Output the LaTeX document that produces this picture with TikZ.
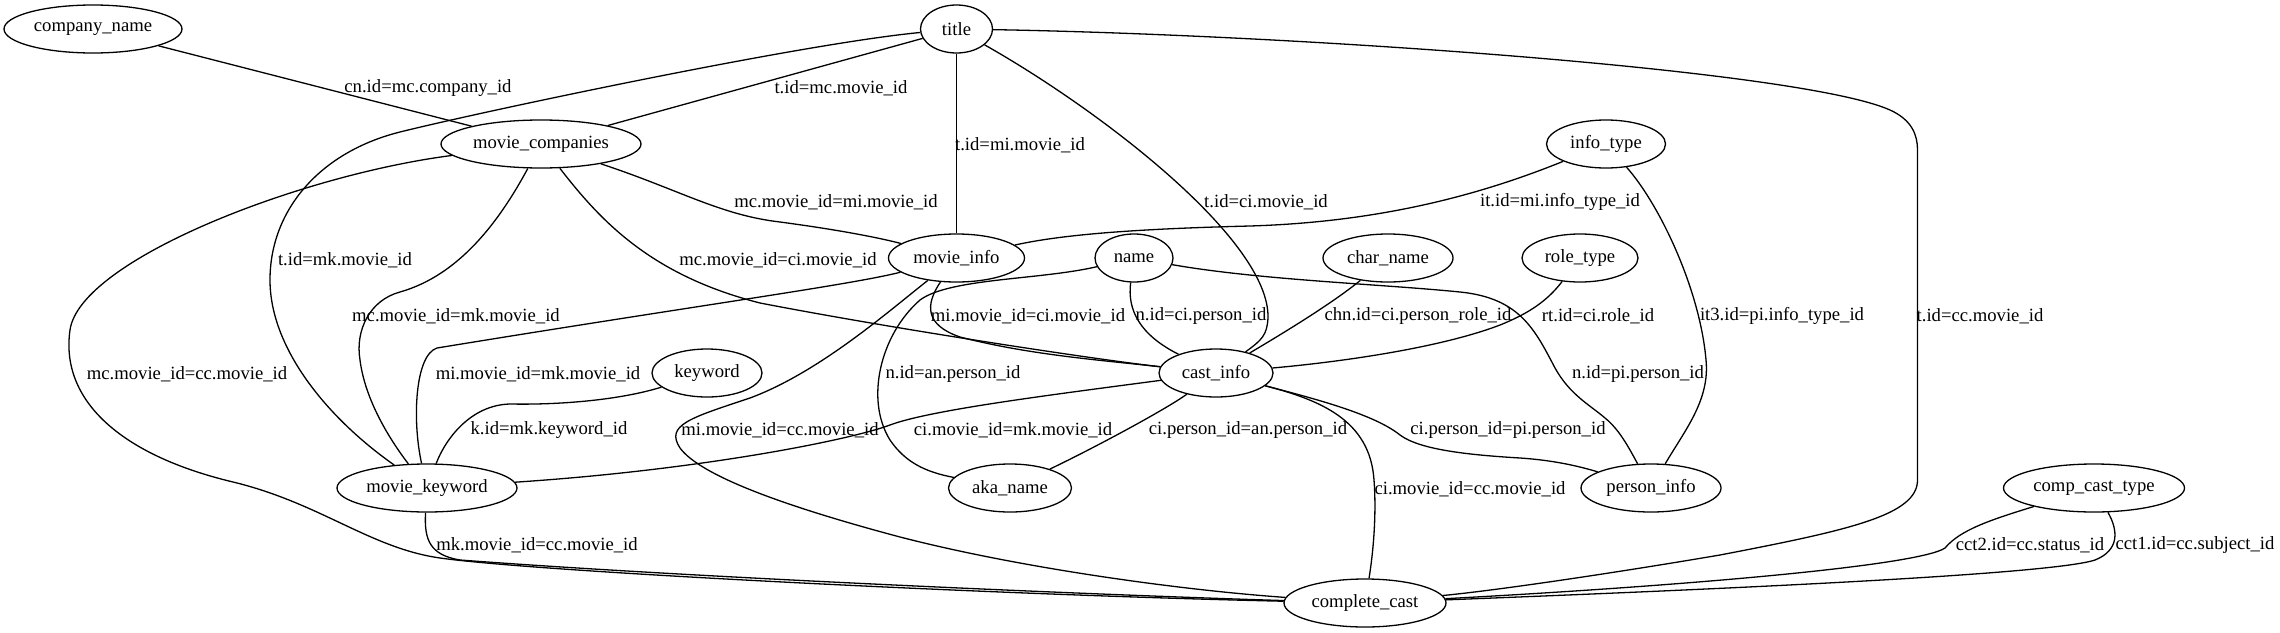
\documentclass[tikz,border=0pt]{standalone}
\usepackage{fontspec}
\setmainfont{Liberation Serif}
\usetikzlibrary{shapes.geometric}
\begin{document}
\begin{tikzpicture}[x=1pt,y=-1pt,
  tbl/.style={draw, ellipse, line width=1.3pt, minimum height=48pt, inner sep=0pt, font=\fontsize{18.67}{22}\selectfont},
  lbl/.style={inner sep=0pt, font=\fontsize{18.67}{22}\selectfont},
  edge/.style={draw, line width=1.3pt}]
\useasboundingbox (0,0) rectangle (2280,632);
% tables
\node[tbl, minimum width=178pt] (cn)  at (93,29)    {company\_name};
\node[tbl, minimum width=72pt]  (t)   at (956.5,29) {title};
\node[tbl, minimum width=200pt] (mc)  at (541,144)  {movie\_companies};
\node[tbl, minimum width=119pt] (it)  at (1606,144) {info\_type};
\node[tbl, minimum width=136pt] (mi)  at (956.5,258) {movie\_info};
\node[tbl, minimum width=78pt]  (n)   at (1134,258) {name};
\node[tbl, minimum width=130pt] (chn) at (1388,258) {char\_name};
\node[tbl, minimum width=116pt] (rt)  at (1580,258) {role\_type};
\node[tbl, minimum width=114pt] (ci)  at (1216,373) {cast\_info};
\node[tbl, minimum width=110pt] (k)   at (707,373)  {keyword};
\node[tbl, minimum width=180pt] (mk)  at (427,488)  {movie\_keyword};
\node[tbl, minimum width=123pt] (an)  at (1010,488) {aka\_name};
\node[tbl, minimum width=140pt] (pi)  at (1651,488) {person\_info};
\node[tbl, minimum width=181pt] (cct) at (2094,488) {comp\_cast\_type};
\node[tbl, minimum width=162pt] (cc)  at (1365,603) {complete\_cast};
% edges
\draw[edge] (cn) -- (mc);
\draw[edge] (t) -- (mc);
\draw[edge] (t) .. controls (800,44) and (480,112) .. (400,132) .. controls (320,152) and (270,210) .. (270,280) .. controls (270,350) and (330,420) .. (mk);
\draw[edge] (mc) .. controls (300,175) and (80,260) .. (70,330) .. controls (60,400) and (120,455) .. (233,482) .. controls (320,503) and (370,548) .. (440,558) .. controls (540,572) and (1000,595) .. (cc);
\draw[edge] (t) -- (mi);
\draw[edge] (t) .. controls (1100,110) and (1270,240) .. (1268,318) .. controls (1267,335) and (1262,340) .. (ci);
\draw[edge] (t) .. controls (1300,35) and (1800,70) .. (1890,110) .. controls (1912,120) and (1917.5,135) .. (1917.5,150) -- (1917.5,480) .. controls (1917.5,515) and (1850,530) .. (1720,555) .. controls (1620,572) and (1500,590) .. (cc);
\draw[edge] (mc) .. controls (680,190) and (720,215) .. (780,222) .. controls (840,230) and (880,238) .. (mi);
\draw[edge] (mc) .. controls (600,220) and (650,275) .. (760,303) .. controls (900,330) and (1100,360) .. (ci);
\draw[edge] (mc) .. controls (500,220) and (460,275) .. (400,292) .. controls (370,300) and (355,330) .. (360,360) .. controls (365,400) and (390,440) .. (mk);
\draw[edge] (mi) .. controls (850,285) and (700,305) .. (437,348) .. controls (415,355) and (412,420) .. (mk);
\draw[edge] (it) .. controls (1480,195) and (1380,222) .. (1250,226) .. controls (1130,229) and (1060,235) .. (mi);
\draw[edge] (it) .. controls (1660,205) and (1700,290) .. (1706,360) .. controls (1710,400) and (1685,430) .. (pi);
\draw[edge] (n) .. controls (1127,310) and (1140,335) .. (ci);
\draw[edge] (n) .. controls (1040,280) and (950,278) .. (920,300) .. controls (880,335) and (865,400) .. (890,440) .. controls (905,462) and (925,472) .. (an);
\draw[edge] (n) .. controls (1260,280) and (1380,284) .. (1460,292) .. controls (1520,298) and (1535,330) .. (1555,368) .. controls (1570,395) and (1590,405) .. (1605,418) .. controls (1620,430) and (1630,450) .. (pi);
\draw[edge] (chn) .. controls (1330,305) and (1280,335) .. (ci);
\draw[edge] (rt) .. controls (1548,300) and (1530,313) .. (1500,325) .. controls (1440,348) and (1340,362) .. (ci);
\draw[edge] (mi) .. controls (925,305) and (925,325) .. (960,337) .. controls (1030,355) and (1100,360) .. (ci);
\draw[edge] (mi) .. controls (890,310) and (820,372) .. (750,398) .. controls (690,418) and (665,425) .. (680,448) .. controls (700,475) and (780,505) .. (900,537) .. controls (1020,568) and (1180,590) .. (cc);
\draw[edge] (k) .. controls (620,400) and (560,405) .. (510,404) .. controls (470,405) and (445,440) .. (mk);
\draw[edge] (ci) .. controls (1050,395) and (930,410) .. (890,425) .. controls (850,440) and (700,470) .. (mk);
\draw[edge] (ci) .. controls (1165,410) and (1090,450) .. (an);
\draw[edge] (ci) .. controls (1320,400) and (1375,415) .. (1400,435) .. controls (1420,450) and (1470,455) .. (1520,458) .. controls (1550,460) and (1575,465) .. (pi);
\draw[edge] (ci) .. controls (1320,400) and (1370,420) .. (1374,480) .. controls (1377,520) and (1372,560) .. (cc);
\draw[edge] (mk) .. controls (424,540) and (430,555) .. (460,560) .. controls (700,578) and (1100,595) .. (cc);
\draw[edge] (cct) .. controls (1990,520) and (1960,530) .. (1945,548) .. controls (1920,565) and (1700,585) .. (cc);
\draw[edge] (cct) .. controls (2118,530) and (2120,550) .. (2095,560) .. controls (2050,575) and (1700,590) .. (cc);
% labels
\node[lbl] (l1)  at (428,88)   {cn.id=mc.company\_id};
\node[lbl] (l2)  at (841,88)   {t.id=mc.movie\_id};
\node[lbl] (l3)  at (345,260)  {t.id=mk.movie\_id};
\node[lbl] (l4)  at (187,374)  {mc.movie\_id=cc.movie\_id};
\node[lbl] (l5)  at (1020,145) {t.id=mi.movie\_id};
\node[lbl] (l6)  at (1266,202) {t.id=ci.movie\_id};
\node[lbl] (l7)  at (1980,316) {t.id=cc.movie\_id};
\node[lbl] (l8)  at (836,202)  {mc.movie\_id=mi.movie\_id};
\node[lbl] (l9)  at (778,260)  {mc.movie\_id=ci.movie\_id};
\node[lbl] (l10) at (456,316)  {mc.movie\_id=mk.movie\_id};
\node[lbl] (l11) at (538,374)  {mi.movie\_id=mk.movie\_id};
\node[lbl] (l12) at (1560,202) {it.id=mi.info\_type\_id};
\node[lbl] (l13) at (1782,316) {it3.id=pi.info\_type\_id};
\node[lbl] (l14) at (1201,316) {n.id=ci.person\_id};
\node[lbl] (l15) at (953,374)  {n.id=an.person\_id};
\node[lbl] (l16) at (1638,374) {n.id=pi.person\_id};
\node[lbl] (l17) at (1418,316) {chn.id=ci.person\_role\_id};
\node[lbl] (l18) at (1598,316) {rt.id=ci.role\_id};
\node[lbl] (l19) at (1028,316) {mi.movie\_id=ci.movie\_id};
\node[lbl] (l20) at (780,430)  {mi.movie\_id=cc.movie\_id};
\node[lbl] (l21) at (549,430)  {k.id=mk.keyword\_id};
\node[lbl] (l22) at (1013,430) {ci.movie\_id=mk.movie\_id};
\node[lbl] (l23) at (1248,430) {ci.person\_id=an.person\_id};
\node[lbl] (l24) at (1508,430) {ci.person\_id=pi.person\_id};
\node[lbl] (l25) at (1470,489) {ci.movie\_id=cc.movie\_id};
\node[lbl] (l26) at (537,545)  {mk.movie\_id=cc.movie\_id};
\node[lbl] (l27) at (2030,545) {cct2.id=cc.status\_id};
\node[lbl] (l28) at (2195,545) {cct1.id=cc.subject\_id};
\end{tikzpicture}
\end{document}
